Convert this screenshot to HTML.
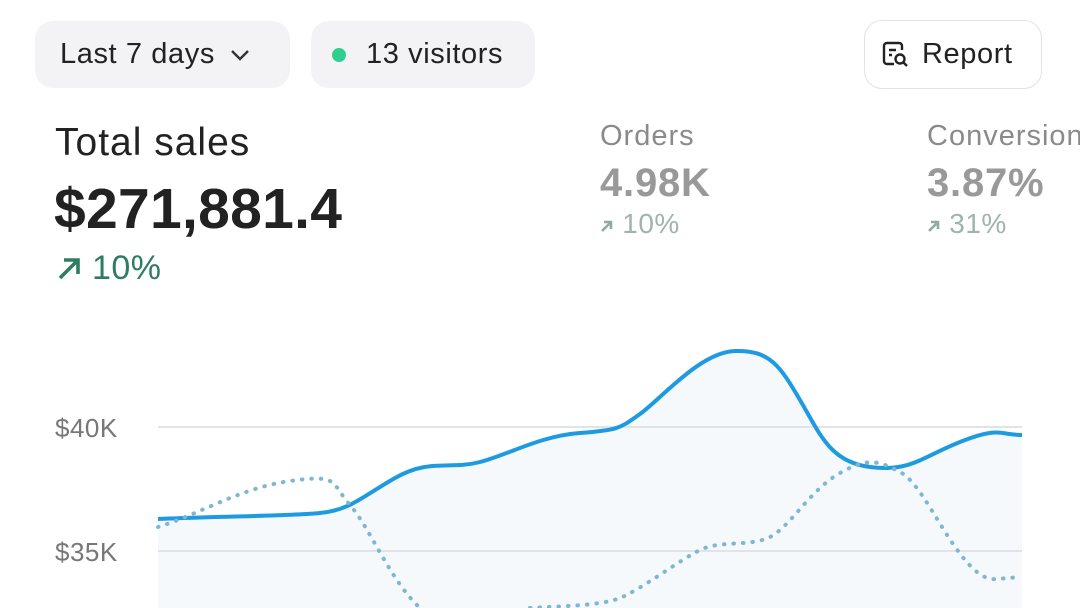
<!DOCTYPE html>
<html><head><style>
html,body{margin:0;padding:0;background:#fff;width:1080px;height:608px;overflow:hidden;font-family:"Liberation Sans",sans-serif;}
.pill{position:absolute;top:21px;height:67px;border-radius:18px;background:#f3f2f4;font-size:29px;letter-spacing:0.6px;color:#222;display:flex;align-items:center;}
.abs{position:absolute;white-space:nowrap;}
</style></head><body>
<div class="pill" style="left:35px;width:255px;"><span style="margin-left:25px">Last 7 days</span>
<svg width="22" height="14" style="margin-left:14px"><path d="M3 3 L11 11 L19 3" fill="none" stroke="#333" stroke-width="2.4"/></svg></div>
<div class="pill" style="left:311px;width:224px;"><span style="display:inline-block;width:14px;height:14px;border-radius:50%;background:#2fcf8f;margin-left:21px"></span><span style="margin-left:20px">13 visitors</span></div>
<div class="pill" style="left:864px;width:176px;background:#fff;border:1.5px solid #e3e3e6;top:20px;">
<svg width="32" height="32" style="margin-left:15px" viewBox="0 0 32 32"><path d="M14 25 H7 a3 3 0 0 1 -3 -3 V7 a3 3 0 0 1 3 -3 H19 a3 3 0 0 1 3 3 V11" fill="none" stroke="#222" stroke-width="2.4"/><path d="M9 11 H16 M9 16 H12" stroke="#222" stroke-width="2.4"/><circle cx="20" cy="20" r="4.5" fill="none" stroke="#222" stroke-width="2.4"/><path d="M23.5 23.5 L27 27" stroke="#222" stroke-width="2.4"/></svg>
<span style="margin-left:10px">Report</span></div>

<div class="abs" style="left:55px;top:121px;font-size:39px;letter-spacing:1px;color:#222;">Total sales</div>
<div class="abs" style="left:54px;top:176px;font-size:57px;font-weight:bold;color:#222;letter-spacing:0.3px">$271,881.4</div>
<div class="abs" style="left:56px;top:249px;font-size:34px;color:#2e7d62;letter-spacing:0.5px"><svg width="26" height="26" style="vertical-align:-2px"><path d="M4 23 L21 6 M8 5 H22 V19" fill="none" stroke="#2e7d62" stroke-width="3.6"/></svg> 10%</div>

<div class="abs" style="left:600px;top:120px;font-size:29px;letter-spacing:1px;color:#8a8a8a;">Orders</div>
<div class="abs" style="left:600px;top:161px;font-size:40px;letter-spacing:0.8px;font-weight:bold;color:#999;">4.98K</div>
<div class="abs" style="left:600px;top:208px;font-size:28px;letter-spacing:0.5px;color:#a0b3ac;"><svg width="14" height="14"><path d="M2 12 L11 3 M4 3 H11 V10" fill="none" stroke="#8faaa0" stroke-width="2.6"/></svg> 10%</div>
<div class="abs" style="left:927px;top:120px;font-size:29px;letter-spacing:1px;color:#8a8a8a;">Conversion</div>
<div class="abs" style="left:927px;top:161px;font-size:40px;letter-spacing:0.8px;font-weight:bold;color:#999;">3.87%</div>
<div class="abs" style="left:927px;top:208px;font-size:28px;letter-spacing:0.5px;color:#a0b3ac;"><svg width="14" height="14"><path d="M2 12 L11 3 M4 3 H11 V10" fill="none" stroke="#8faaa0" stroke-width="2.6"/></svg> 31%</div>

<svg class="abs" style="left:0;top:0" width="1080" height="608">
<text x="55" y="437" font-size="26" fill="#777" font-family="Liberation Sans" letter-spacing="0.5">$40K</text>
<text x="55" y="561" font-size="26" fill="#777" font-family="Liberation Sans" letter-spacing="0.5">$35K</text>
<path d="M158 519 C230 516 290 516 320 513 S360 498 395 478 S450 470 480 462 S540 436 580 433 S620 428 640 414 S700 352 735 351 S780 366 800 400 S830 462 870 467 S920 458 960 442 S1000 435 1022 435 V608 H158 Z" fill="#f6f9fc"/>
<line x1="158" y1="427" x2="1022" y2="427" stroke="#e2e2ea" stroke-width="2"/>
<line x1="158" y1="551" x2="1022" y2="551" stroke="#e2e2ea" stroke-width="2"/>
<path d="M158 519 C230 516 290 516 320 513 S360 498 395 478 S450 470 480 462 S540 436 580 433 S620 428 640 414 S700 352 735 351 S780 366 800 400 S830 462 870 467 S920 458 960 442 S1000 435 1022 435" fill="none" stroke="#1e9be0" stroke-width="4"/>
<path d="M158 527 C200 514 240 488 290 481 S330 482 350 505 S390 580 420 608 M530 608 C560 606 600 606 620 598 S680 560 700 550 S750 547 770 537 S810 490 840 473 S880 462 900 472 S940 530 965 560 S1000 575 1018 578" fill="none" stroke="#7fb7d2" stroke-width="4" stroke-dasharray="0.5 9" stroke-linecap="round"/>
</svg>
</body></html>
